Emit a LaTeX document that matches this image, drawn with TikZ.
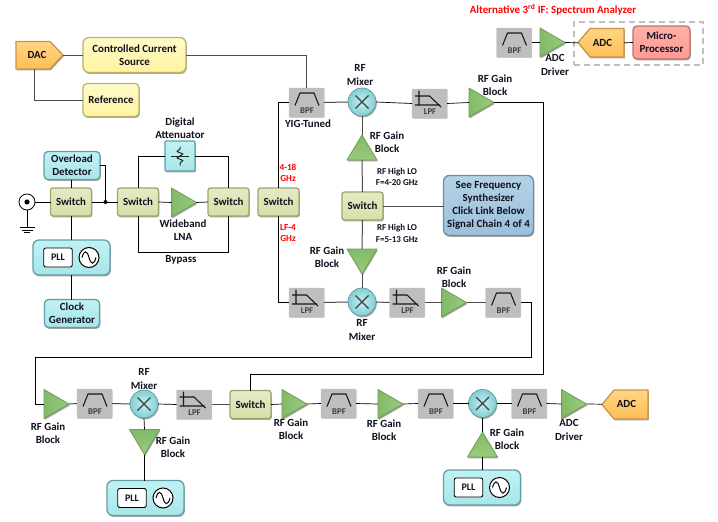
\documentclass[tikz,border=0pt]{standalone}
\usepackage{fontspec}
\setmainfont{Carlito}
\usetikzlibrary{shadows}
\definecolor{txt}{HTML}{101020}
\definecolor{sw1}{HTML}{E6EAC4}\definecolor{sw2}{HTML}{D8DEA8}\definecolor{sw3}{HTML}{9FA470}
\definecolor{te1}{HTML}{C0F2F4}\definecolor{te2}{HTML}{A8E6E8}\definecolor{te3}{HTML}{639FA6}\definecolor{te4}{HTML}{86CDD2}
\definecolor{ye1}{HTML}{FFFBC8}\definecolor{ye2}{HTML}{FFF3A0}\definecolor{ye3}{HTML}{BDB370}
\definecolor{fi1}{HTML}{BEBEBE}
\definecolor{gr1}{HTML}{9ACB7C}\definecolor{gr2}{HTML}{82BA68}\definecolor{gr3}{HTML}{6F9E58}
\definecolor{or1}{HTML}{FFD583}\definecolor{or2}{HTML}{FFBE58}\definecolor{or3}{HTML}{C89544}
\definecolor{sa1}{HTML}{FFB0A8}\definecolor{sa2}{HTML}{FF9A92}\definecolor{sa3}{HTML}{B8746E}
\definecolor{bl1}{HTML}{B4D2E6}\definecolor{bl2}{HTML}{9CC0DA}\definecolor{bl3}{HTML}{6890AA}
\tikzset{
  x=1pt,y=-1pt,
  every node/.style={inner sep=0pt,outer sep=0pt,align=center,text=txt},
  sh/.style={drop shadow={shadow xshift=0.8pt,shadow yshift=-1.4pt,opacity=.5,fill=black!70}},
  lbl/.style={font=\fontsize{10.9}{13.2}\selectfont\bfseries},
  smlbl/.style={font=\fontsize{9}{11.6}\selectfont\bfseries},
  redlbl/.style={font=\fontsize{9.2}{11}\selectfont\bfseries,text=red},
  wire/.style={draw=black!70,line width=1pt},
  thin wire/.style={draw=black,line width=.7pt},
  bev/.style args={#1/#2/#3}{draw=#3,line width=1.3pt,top color=#1,bottom color=#2,sh,lbl},
  swbox/.style={rectangle,rounded corners=2.5pt,bev=sw1/sw2/sw3,minimum width=41pt,minimum height=28pt},
  tealbox/.style={rectangle,rounded corners=4pt,bev=te1/te2/te3},
  yelbox/.style={rectangle,rounded corners=#1,bev=ye1/ye2/ye3},
  filtbox/.style={rectangle,rounded corners=.6pt,fill=fi1,draw=fi1,minimum width=35pt,minimum height=29pt,
     drop shadow={shadow xshift=.5pt,shadow yshift=-.9pt,opacity=.3,fill=black!60}},
  filtsym/.style={draw=black!90,line width=1.1pt,line join=round},
  filttxt/.style={font=\fontsize{8.8}{9}\selectfont\bfseries,text=black!75},
  tri/.style={draw=gr3,line width=.8pt,left color=gr2,right color=gr1,sh,line join=round},
  triv/.style={draw=gr3,line width=.8pt,top color=gr2,bottom color=gr1,sh,line join=round},
  mixball/.style={circle,minimum size=28pt,draw=te3,line width=.8pt,inner color=te1,outer color=te4,sh},
  xmark/.style={draw=black!75,line width=1.1pt},
  pllbox/.style={rectangle,rounded corners=2pt,draw=black,line width=.9pt,fill=white,minimum width=28.5pt,minimum height=19pt,font=\fontsize{10}{11}\selectfont\bfseries},
  sinecirc/.style={circle,minimum size=20pt,draw=black,line width=1pt,fill=white},
  orpoly/.style={draw=or3,line width=1.3pt,top color=or1,bottom color=or2,sh,line join=round},
}
% name, x, y
\newcommand\bpfblock[3]{\node[filtbox] (#1) at (#2,#3) {};
  \begin{scope}[shift={(#1.center)}]
  \draw[filtsym] (-11.5,3) -- (-6.5,-9.5) -- (7.5,-9.5) -- (12.5,3);
  \node[filttxt] at (0.5,8.5) {BPF};
  \end{scope}}
\newcommand\lpfblock[3]{\node[filtbox] (#1) at (#2,#3) {};
  \begin{scope}[shift={(#1.center)}]
  \draw[filtsym] (-10.5,-13) -- (-10.5,1.5) (-14.5,1.5) -- (10.5,1.5) (-14.5,-7.5) -- (0,-7.5) -- (11.5,3.5);
  \node[filttxt] at (0.5,8.5) {LPF};
  \end{scope}}
\newcommand\ampright[3]{\node[rectangle,minimum width=25pt,minimum height=29pt] (#1) at (#2,#3) {};
  \draw[tri] (#1.north west) -- (#1.east) -- (#1.south west) -- cycle;}
\newcommand\ampup[3]{\node[rectangle,minimum width=30pt,minimum height=25pt] (#1) at (#2,#3) {};
  \draw[triv] (#1.south west) -- (#1.north) -- (#1.south east) -- cycle;}
\newcommand\ampdown[3]{\node[rectangle,minimum width=30pt,minimum height=25pt] (#1) at (#2,#3) {};
  \draw[triv] (#1.north west) -- (#1.south) -- (#1.north east) -- cycle;}
\newcommand\mixerball[3]{\node[mixball] (#1) at (#2,#3) {};
  \begin{scope}[shift={(#1.center)}]
  \draw[xmark] (-6.5,-6.5) -- (6.5,6.5) (-6.5,6.5) -- (6.5,-6.5);
  \end{scope}}
% name, x, y of PLL box centre
\newcommand\pllblock[3]{\node[tealbox,rounded corners=6pt,minimum width=77pt,minimum height=35pt] (#1) at (#2,#3) {};
  \node[pllbox] (#1p) at ([xshift=-13.5pt]#1.center) {PLL};
  \node[sinecirc] (#1s) at ([xshift=17.5pt]#1.center) {};
  \begin{scope}[shift={(#1s.center)}]
  \draw[black,line width=1pt] (-7,0) .. controls (-5,-7.5) and (-2,-7.5) .. (0,0) .. controls (2,7.5) and (5,7.5) .. (7,0);
  \end{scope}}
\begin{document}
\begin{tikzpicture}
\useasboundingbox (0,0) rectangle (718,522);
\fill[white] (0,0) rectangle (718,522);

% ---- top left
\draw[orpoly] (16,41.5) -- (50,41.5) -- (63,55) -- (50,69) -- (16,69) -- cycle;
\node[lbl,rectangle,minimum width=47pt,minimum height=27.5pt] (dac) at (39.5,55.2) {\hspace*{-5pt}DAC};
\node[yelbox=6pt,minimum width=103pt,minimum height=35pt] (ccs) at (134.5,55) {Controlled Current\\Source};
\node[yelbox=4pt,minimum width=56pt,minimum height=33pt] (ref) at (111,100) {Reference};

% ---- input chain
\node[circle,minimum size=16pt,draw=black,line width=.8pt,fill=white] (ant) at (27,202) {};
\fill[black] (ant.center) circle (2.6);
\coordinate (gnd) at (27,227);
\node[swbox] (sw1) at (71,202) {Switch};
\node[swbox] (sw2) at (138,202) {Switch};
\ampright{lna}{184}{202.5}
\node[swbox] (sw3) at (228.5,202) {Switch};
\node[swbox] (sw4) at (278.5,202) {Switch};
\node[tealbox,rounded corners=1pt,minimum width=30pt,minimum height=30pt] (att) at (180,156) {};
\begin{scope}[shift={(att.center)}]
\draw[black!85,line width=1pt] (-9,0) -- (9,0);
\draw[black!85,line width=1pt,line join=round] (0,-9.5) -- (0,-7) -- (-3,-4.5) -- (3,-2) -- (-3,2) -- (3,4.5) -- (0,7) -- (0,9.5);
\end{scope}
\node[tealbox,minimum width=56pt,minimum height=28pt] (ovl) at (72,165.5) {Overload\\Detector};
\pllblock{pll1}{71.5}{257.5}
\node[tealbox,minimum width=55pt,minimum height=28pt] (clk) at (72,313.5) {Clock\\Generator};
\coordinate (j1) at (105.5,202);

% ---- upper RF path
\bpfblock{bpf1}{306.5}{102.5}
\mixerball{mix1}{362}{102}
\lpfblock{lpf1}{429.5}{103.5}
\ampright{amp1}{481.5}{102.5}
\ampup{amp2}{362}{147.5}
\node[swbox] (sw5) at (362.5,206) {Switch};
\node[rectangle,rounded corners=6pt,bev=bl1/bl2/bl3,minimum width=90pt,minimum height=60pt] (syn) at (488.5,205.5) {See Frequency\\Synthesizer\\Click Link Below\\Signal Chain 4 of 4};
\ampdown{amp3}{362}{261.5}

% ---- lower RF path
\lpfblock{lpf2}{306.5}{302.5}
\mixerball{mix2}{362}{302}
\lpfblock{lpf3}{407}{302.5}
\ampright{amp4}{454}{302.5}
\bpfblock{bpf2}{503}{302.5}

% ---- top right
\bpfblock{bpf3}{514}{42.5}
\ampright{amp5}{552.5}{42.5}
\draw[orpoly] (624,28.5) -- (590,28.5) -- (578,42.5) -- (590,57) -- (624,57) -- cycle;
\node[lbl,rectangle,minimum width=46pt,minimum height=28pt] (adc1) at (601,42.8) {\hspace*{3pt}ADC};
\node[rectangle,rounded corners=4pt,bev=sa1/sa2/sa3,minimum width=57pt,minimum height=33pt] (mcu) at (661.5,42.5) {Micro-\\Processor};
\node[rectangle,draw=black!25,line width=1.2pt,dash pattern=on 6pt off 4pt,minimum width=129pt,minimum height=43pt] (dbox) at (638.5,43.5) {};

% ---- bottom row
\ampright{amp6}{56.5}{404}
\bpfblock{bpf4}{94.5}{403.5}
\mixerball{mix3}{144}{404}
\lpfblock{lpf4}{194}{404.5}
\node[swbox] (sw6) at (250.5,404.5) {Switch};
\ampright{amp7}{294.5}{404}
\bpfblock{bpf5}{338.5}{403.5}
\ampright{amp8}{390.5}{404}
\bpfblock{bpf6}{435.5}{403.5}
\mixerball{mix4}{482.5}{403.5}
\bpfblock{bpf7}{529}{403.5}
\ampright{amp9}{574}{404}
\draw[orpoly] (648,390) -- (614,390) -- (602,404.5) -- (614,419) -- (648,419) -- cycle;
\node[lbl,rectangle,minimum width=46pt,minimum height=29pt] (adc2) at (625,404.2) {\hspace*{3pt}ADC};
\ampdown{amp10}{144.5}{442}
\pllblock{pll2}{145.5}{498}
\ampup{amp11}{482.5}{444.5}
\pllblock{pll3}{482}{487.5}

% ---- routing points
\coordinate (k1) at (543,102.5);
\coordinate (k2) at (543,374);
\coordinate (k3) at (531.5,302.5);
\coordinate (k4) at (531.5,357);
\coordinate (k5) at (35,357);
\coordinate (k6) at (35,404);

% ---- connectors: gray
\draw[wire] (dac.east) -- (dac.east -| ccs.west);
\draw[wire] (ccs.east) -| (bpf1.north);
\draw[wire] ([xshift=-5.5pt]dac.south) |- (ref.west);
\draw[wire] (bpf1.east) -- (mix1.west);
\draw[wire] (mix1.south) -- (amp2.north);
\draw[wire] (amp2.south) -- (sw5.north);
\draw[wire] (sw5.east) -- (sw5.east -| syn.west);
\draw[wire] (sw5.south) -- (amp3.north);
\draw[wire] (amp3.south) -- (mix2.north);
\draw[wire] (lpf2.east) -- (mix2.west);
\draw[wire] (mix2.east) -- (lpf3.west);
\draw[wire] (lpf3.east) -- (amp4.west);
\draw[wire] (amp4.east) -- (bpf2.west);
\draw[wire] (bpf4.east) -- (mix3.west);
\draw[wire] (amp6.east) -- (bpf4.west);
\draw[wire] (lpf4.east) -- (sw6.west);
% ---- connectors: black
\draw[thin wire] (ant.east) -- (sw1.west);
\draw[thin wire] (ant.south) -- (gnd);
\draw[thin wire] ([xshift=-7.5pt]gnd) -- ([xshift=7.5pt]gnd);
\draw[thin wire] ([xshift=-5.5pt,yshift=-3pt]gnd) -- ([xshift=5.5pt,yshift=-3pt]gnd);
\draw[thin wire] ([xshift=-3pt,yshift=-5.6pt]gnd) -- ([xshift=3pt,yshift=-5.6pt]gnd);
\draw[thin wire] (ovl.south -| sw1.north) -- (sw1.north);
\draw[thin wire] (sw1.south) -- (sw1.south |- pll1.north);
\draw[thin wire] (pll1.south) -- (pll1.south |- clk.north);
\draw[thin wire] (sw1.east) -- (sw2.west);
\draw[thin wire] (ovl.east) -| (j1);
\fill[black] (j1) circle (2);
\draw[thin wire] (sw2.east) -- (lna.west);
\draw[thin wire] (lna.east) -- (sw3.west);
\draw[thin wire] (sw2.north) |- (att.west);
\draw[thin wire] (att.east) -| (sw3.north);
\draw[thin wire] (sw2.south) -- ++(0,36) -| (sw3.south);
\draw[thin wire] (sw4.north) |- (bpf1.west);
\draw[thin wire] (sw4.south) |- (lpf2.west);
\draw[thin wire] (mix1.east) -- (lpf1.west);
\draw[thin wire] (lpf1.east) -- (amp1.west);
\draw[thin wire] (amp1.east) -- (k1) -- (k2) -| (sw6.north);
\draw[thin wire] (bpf2.east) -- (k3) -- (k4) -- (k5) -- (k6) -- (amp6.west);
\draw[thin wire] (bpf3.east) -- (amp5.west);
\draw[thin wire] (amp5.east) -- (adc1.west);
\draw[thin wire] (adc1.east) -- (mcu.west);
\draw[thin wire] (mix3.east) -- (lpf4.west);
\draw[thin wire] (mix3.south) -- (amp10.north);
\draw[thin wire] (amp10.south) -- (pll2.north -| amp10.south);
\draw[thin wire] (sw6.east) -- (amp7.west);
\draw[thin wire] (amp7.east) -- (bpf5.west);
\draw[thin wire] (bpf5.east) -- (amp8.west);
\draw[thin wire] (amp8.east) -- (bpf6.west);
\draw[thin wire] (bpf6.east) -- (mix4.west);
\draw[thin wire] (mix4.east) -- (bpf7.west);
\draw[thin wire] (bpf7.east) -- (amp9.west);
\draw[thin wire] (amp9.east) -- (adc2.west);
\draw[thin wire] (mix4.south) -- (amp11.north);
\draw[thin wire] (amp11.south) -- (amp11.south |- pll3.north);

% ---- labels
\node[lbl] (t1) at (180,128.5) {Digital\\Attenuator};
\node[lbl] (t2) at (183,230) {Wideband\\LNA};
\node[lbl] (t3) at (181,260) {Bypass};
\node[lbl] (t4) at (360,75) {RF\\Mixer};
\node[lbl] (t5) at (308,124) {YIG-Tuned};
\node[lbl] (t6) at (495,85.5) {RF Gain\\Block};
\node[lbl] (t7) at (387,142.5) {RF Gain\\Block};
\node[smlbl] (t8) at (397,177) {RF High LO\\F=4-20 GHz};
\node[smlbl] (t9) at (397,233.5) {RF High LO\\F=5-13 GHz};
\node[redlbl] (t10) at (288,172.5) {4-18\\GHz};
\node[redlbl] (t11) at (288,233.5) {LF-4\\GHz};
\node[lbl] (t12) at (327,257.5) {RF Gain\\Block};
\node[lbl] (t13) at (362,330) {RF\\Mixer};
\node[lbl] (t14) at (454,277.5) {RF Gain\\Block};
\node[lbl,text=red,font=\fontsize{10.9}{12}\selectfont\bfseries] (t15) at (553,10) {Alternative 3\textsuperscript{rd} IF: Spectrum Analyzer};
\node[lbl] (t16) at (555,65) {ADC\\Driver};
\node[lbl] (t17) at (48,433) {RF Gain\\Block};
\node[lbl] (t18) at (144,379) {RF\\Mixer};
\node[lbl] (t19) at (173,447.5) {RF Gain\\Block};
\node[lbl] (t20) at (291,429.5) {RF Gain\\Block};
\node[lbl] (t21) at (384,430) {RF Gain\\Block};
\node[lbl] (t22) at (507,439.5) {RF Gain\\Block};
\node[lbl] (t23) at (569,430) {ADC\\Driver};
\end{tikzpicture}
\end{document}
